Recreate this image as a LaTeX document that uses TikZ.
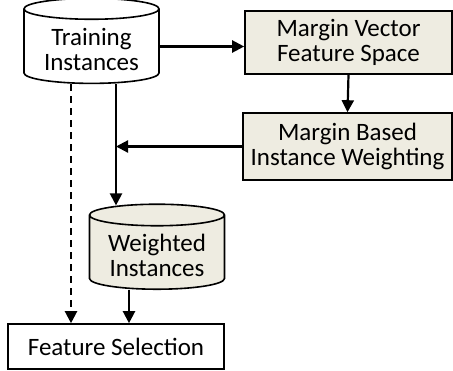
\documentclass[tikz,border=0pt]{standalone}
\usepackage{fontspec}
\setmainfont{Carlito}
\usetikzlibrary{positioning,calc,arrows.meta,shapes.geometric}
\definecolor{stagefill}{HTML}{EEECE1}
% text of a store sits in the body, below the lid
\newcommand{\storetext}[1]{\raisebox{-6pt}[\height][\depth]{\begin{tabular}{@{}c@{}}#1\end{tabular}}}

\begin{document}
\begin{tikzpicture}[x=1pt,y=-1pt,
  font=\fontsize{25}{25}\selectfont,
  store/.style={draw, line width=1.6pt, cylinder, shape border rotate=90,
    aspect=0.22, minimum width=135pt, minimum height=85pt, inner sep=0pt},
  stage/.style={draw, line width=1.6pt, fill=stagefill, align=center, inner sep=0pt},
  flow/.style={line width=2.2pt, -{Triangle[length=12pt,width=12pt]}}]
\useasboundingbox (0,0) rectangle (453,370);

% data stores
\node[store, fill=white] (train) at (91.5,46.5) {\storetext{Training\\Instances}};
\node[store, fill=stagefill] (weighted) at (157,252.5) {\storetext{Weighted\\Instances}};

% processing stages
\node[stage, minimum width=207pt, minimum height=63pt] (margin) at (348.5,42.5)
  {Margin Vector\\Feature Space};
\node[stage, minimum width=209pt, minimum height=67pt] (weighting) at (347.5,146.5)
  {Margin Based\\Instance Weighting};
\node[draw, line width=1.6pt, fill=white, minimum width=216pt, minimum height=45pt,
  inner sep=0pt] (select) at (116,346.5) {Feature Selection};

% columns of the vertical lines
\coordinate (trunk) at (116,0);
\coordinate (skip) at (71,0);
\coordinate (feed) at (129,0);

\draw[flow] (train.east) -- (train.east -| margin.west);
\draw[flow] (margin.south) -- (weighting.north);
\draw[flow] (weighting.west) -- (weighting.west -| trunk);
\draw[flow] (train.south -| trunk) -- ($(weighted.north -| trunk)+(0,2)$);
\draw[flow, dashed, dash pattern=on 7pt off 5pt] (train.south -| skip) -- (select.north -| skip);
\draw[flow] (weighted.south -| feed) -- (select.north -| feed);
\end{tikzpicture}
\end{document}
